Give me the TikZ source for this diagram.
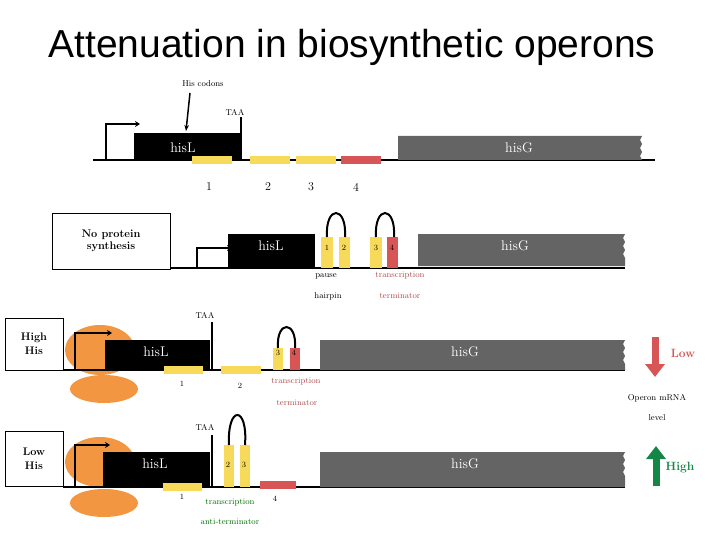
\documentclass[tikz,border=0pt]{standalone}
\usepackage{fontspec}
\usetikzlibrary{arrows.meta}
\newfontfamily\titlefont{Liberation Sans}
\begin{document}
\begin{tikzpicture}[x=1pt,y=-1pt,
  dna/.style={line width=2pt,black},
  lbl/.style={font=\fontsize{8.5}{9}\selectfont,inner sep=0},
  gene/.style={font=\fontsize{14}{15}\selectfont,text=white,inner sep=0},
  seg/.style={font=\fontsize{8}{9}\selectfont,inner sep=0},
  num/.style={font=\fontsize{12}{13}\selectfont,inner sep=0},
  loop/.style={line width=2pt},
  prom/.style={line width=2pt,-{Stealth[length=5pt,width=6pt]}},
  box/.style={draw,thin,fill=white,font=\bfseries\fontsize{11}{14}\selectfont,align=center},
  rib/.style={fill=ribc,draw=none},
  termc/.style={text=red!55!black!70,font=\fontsize{8.5}{9}\selectfont,inner sep=0},
  antic/.style={text=green!45!black,font=\fontsize{8.5}{9}\selectfont,inner sep=0},
]
\useasboundingbox (0,0) rectangle (720,540);
\definecolor{gG}{RGB}{100,100,100}
\definecolor{yy}{RGB}{248,218,90}
\definecolor{rr}{RGB}{215,85,85}
\definecolor{ribc}{RGB}{243,150,65}
\definecolor{gg}{RGB}{20,135,70}
\tikzset{yel/.style={fill=yy},redb/.style={fill=rr}}
\newcommand{\hisG}[4]{% x1 y1 x2 y2
  \fill[gG] (#1,#2) -- (#3,#2) -- (#3-2,#2+4) -- (#3,#2+8) -- (#3-2,#2+12) -- (#3,#2+16) -- (#3-2,#2+20) -- (#3,#2+24) -- (#3,#4) -- (#1,#4) -- cycle;}
\node[font=\titlefont\fontsize{39}{42}\selectfont] (title) at (352,47) {Attenuation in biosynthetic operons};

% Row 1
\node[lbl] (cod) at (203,84) {His codons};
\coordinate (codS) at (190,93);
\coordinate (codE) at (186,131);
\draw[line width=1.5pt,-{Stealth[length=6pt]}] (codS) -- (codE);
\draw[dna] (93,160) -- (655,160);
\fill (134,133) rectangle (241,160);
\node[gene] (L1) at (183,148) {hisL};
\draw[line width=1.2pt] (241,117) -- (241,160);
\node[lbl] (taa1) at (235,112) {TAA};
\draw[prom] (106,160) -- (106,124) -- (140,124);
\fill[yel] (192,156) rectangle (232,164);
\fill[yel] (250,156) rectangle (290,164);
\fill[yel] (296,156) rectangle (336,164);
\fill[redb] (341,156) rectangle (381,164);
\hisG{398}{136}{642}{160}
\node[gene] (G1) at (519,148) {hisG};
\node[num] (n1) at (209,187) {1};
\node[num] (n2) at (268,187) {2};
\node[num] (n3) at (311,187) {3};
\node[num] (n4) at (356,187) {4};

% Row 2
\node[box,minimum width=118pt,minimum height=56pt] (np) at (111,241) {No protein\\[-2pt]synthesis};
\draw[dna] (170,268) -- (625,268);
\draw[prom] (197,268) -- (197,248) -- (232,248);
\fill (228,234) rectangle (315,268);
\node[gene] (L2) at (271,246) {hisL};
\fill[yel] (321,237) rectangle (333,268);
\fill[yel] (339,237) rectangle (350,268);
\node[seg] at (327,248) {1};
\node[seg] at (344,248) {2};
\draw[loop] (327,237) .. controls (325,205) and (347,205) .. (345,237);
\fill[yel] (370,237) rectangle (382,268);
\fill[redb] (387,237) rectangle (398,268);
\node[seg] at (376,248) {3};
\node[seg] at (392,248) {4};
\draw[loop] (376,237) .. controls (374,205) and (396,205) .. (394,237);
\hisG{418}{234}{625}{266}
\node[gene] (G2) at (515,246) {hisG};
\node[lbl] at (326,276) {pause};
\node[lbl] at (328,296) {hairpin};
\node[termc] at (400,276) {transcription};
\node[termc] at (400,296) {terminator};

% Row 3
\fill[rib] (100,350) ellipse (35 and 25);
\fill[rib] (104,389) ellipse (34 and 14);
\node[box,minimum width=58pt,minimum height=52pt] (hh) at (34,344) {High\\His};
\draw[dna] (63,370) -- (625,370);
\draw[prom] (75,370) -- (75,333) -- (112,333);
\fill (105,340) rectangle (210,370);
\node[gene] (L3) at (156,352) {hisL};
\draw[line width=1.2pt] (212,322) -- (212,370);
\node[lbl] (taa3) at (205,315) {TAA};
\fill[yel] (164,366) rectangle (203,374);
\fill[yel] (221,366) rectangle (261,374);
\node[seg] at (182,384) {1};
\node[seg] at (240,386) {2};
\fill[yel] (273,348) rectangle (283,370);
\fill[redb] (290,348) rectangle (300,370);
\node[seg] at (278,353) {3};
\node[seg] at (294,353) {4};
\draw[loop] (278,348) .. controls (276,320) and (297,320) .. (295,348);
\hisG{320}{340}{625}{370}
\node[gene] (G3) at (465,352) {hisG};
\node[termc] at (296,382) {transcription};
\node[termc] at (297,403) {terminator};
\draw[rr,line width=7pt,-{Triangle[length=13pt,width=19pt]}] (655,337) -- (655,377);
\node[text=rr,font=\bfseries\fontsize{12}{13}\selectfont] (low) at (683,353) {Low};
\node[lbl] at (657,398) {Operon mRNA};
\node[lbl] at (657,418) {level};

% Row 4
\fill[rib] (100,462) ellipse (35 and 25);
\fill[rib] (104,503) ellipse (34 and 14);
\node[box,minimum width=58pt,minimum height=55pt] (lh) at (34,459) {Low\\His};
\draw[dna] (63,487) -- (625,487);
\draw[prom] (75,487) -- (75,445) -- (110,445);
\fill (103,452) rectangle (210,487);
\node[gene] (L4) at (155,464) {hisL};
\draw[line width=1.2pt] (212,435) -- (212,487);
\node[lbl] (taa4) at (205,427) {TAA};
\fill[yel] (163,483) rectangle (202,491);
\node[seg] at (182,497) {1};
\fill[yel] (224,445) rectangle (234,487);
\fill[yel] (240,445) rectangle (250,487);
\node[seg] at (228,465) {2};
\node[seg] at (244,465) {3};
\draw[loop] (229,445) .. controls (227,405) and (248,405) .. (245,445);
\fill[redb] (260,481) rectangle (296,489);
\node[seg] at (275,499) {4};
\hisG{320}{452}{625}{487}
\node[gene] (G4) at (465,464) {hisG};
\node[antic] at (230,503) {transcription};
\node[antic] at (230,522) {anti-terminator};
\draw[gg,line width=7pt,-{Triangle[length=13pt,width=19pt]}] (656,486) -- (656,446);
\node[text=gg,font=\bfseries\fontsize{12}{13}\selectfont] (high) at (680,468) {High};
\end{tikzpicture}
\end{document}
